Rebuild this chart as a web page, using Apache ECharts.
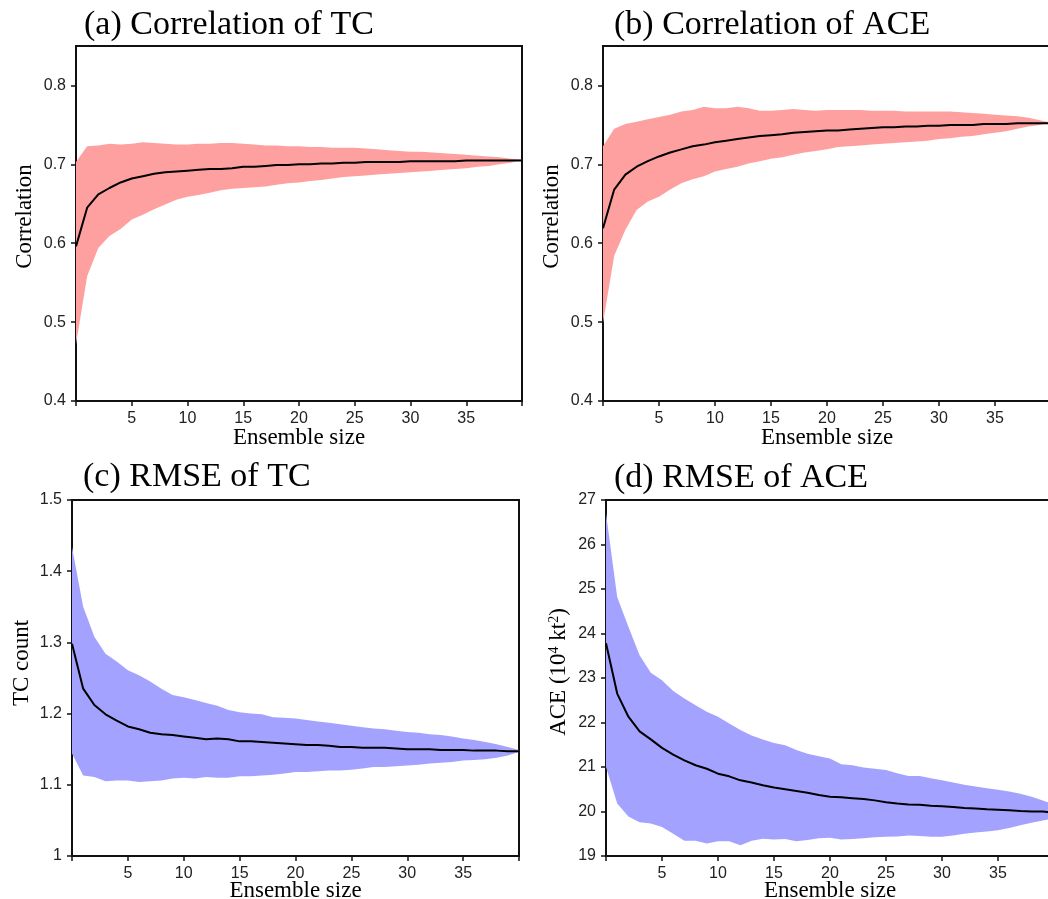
<!DOCTYPE html>
<html>
<head>
<meta charset="utf-8">
<script src="https://cdn.jsdelivr.net/npm/echarts@6/dist/echarts.min.js"></script>
<style>
  html, body { margin: 0; padding: 0; background: #fff; overflow: hidden; }
  #chart { width: 1060px; height: 899px; }
</style>
</head>
<body>
<div id="chart"></div>
<script>
// Ensemble sizes on the x axis
const ensembleSize = [0, 1, 2, 3, 4, 5, 6, 7, 8, 9, 10, 11, 12, 13, 14, 15, 16, 17, 18, 19, 20,
  21, 22, 23, 24, 25, 26, 27, 28, 29, 30, 31, 32, 33, 34, 35, 36, 37, 38, 39, 40];

// (a) Correlation of TC: mean and spread bounds
const corrTcMean = [0.596, 0.645, 0.662, 0.670, 0.677, 0.682, 0.685, 0.688, 0.690, 0.691, 0.692,
  0.693, 0.694, 0.694, 0.695, 0.697, 0.697, 0.698, 0.699, 0.699, 0.700,
  0.700, 0.701, 0.701, 0.702, 0.702, 0.703, 0.703, 0.703, 0.703, 0.704,
  0.704, 0.704, 0.704, 0.704, 0.705, 0.705, 0.705, 0.705, 0.705, 0.705];
const corrTcUpper = [0.703, 0.723, 0.724, 0.726, 0.725, 0.726, 0.728, 0.727, 0.726, 0.725, 0.725,
  0.726, 0.726, 0.727, 0.727, 0.726, 0.725, 0.724, 0.724, 0.723, 0.723,
  0.722, 0.722, 0.721, 0.721, 0.721, 0.720, 0.719, 0.718, 0.717, 0.716,
  0.716, 0.715, 0.714, 0.713, 0.712, 0.711, 0.710, 0.709, 0.707, 0.706];
const corrTcLower = [0.472, 0.558, 0.594, 0.609, 0.618, 0.630, 0.636, 0.643, 0.649, 0.655, 0.659,
  0.661, 0.664, 0.667, 0.669, 0.670, 0.671, 0.672, 0.674, 0.676, 0.677,
  0.679, 0.680, 0.682, 0.684, 0.685, 0.686, 0.687, 0.688, 0.689, 0.690,
  0.691, 0.692, 0.693, 0.694, 0.695, 0.697, 0.698, 0.700, 0.702, 0.705];

// (b) Correlation of ACE
const corrAceMean = [0.619, 0.668, 0.687, 0.697, 0.704, 0.710, 0.715, 0.719, 0.723, 0.725, 0.728,
  0.730, 0.732, 0.734, 0.736, 0.737, 0.738, 0.740, 0.741, 0.742, 0.743,
  0.743, 0.744, 0.745, 0.746, 0.747, 0.747, 0.748, 0.748, 0.749, 0.749,
  0.750, 0.750, 0.750, 0.751, 0.751, 0.751, 0.752, 0.752, 0.752, 0.752];
const corrAceUpper = [0.723, 0.745, 0.751, 0.754, 0.757, 0.760, 0.763, 0.767, 0.769, 0.773, 0.771,
  0.771, 0.773, 0.771, 0.768, 0.768, 0.769, 0.770, 0.769, 0.768, 0.769,
  0.769, 0.769, 0.769, 0.768, 0.768, 0.768, 0.767, 0.767, 0.767, 0.767,
  0.767, 0.766, 0.765, 0.764, 0.763, 0.762, 0.761, 0.759, 0.756, 0.753];
const corrAceLower = [0.499, 0.584, 0.617, 0.642, 0.653, 0.659, 0.668, 0.676, 0.681, 0.685, 0.691,
  0.694, 0.697, 0.701, 0.704, 0.707, 0.709, 0.712, 0.715, 0.717, 0.719,
  0.722, 0.723, 0.724, 0.725, 0.726, 0.727, 0.728, 0.729, 0.730, 0.732,
  0.733, 0.735, 0.736, 0.738, 0.740, 0.742, 0.745, 0.748, 0.750, 0.752];

// (c) RMSE of TC
const rmseTcMean = [1.298, 1.235, 1.212, 1.199, 1.190, 1.182, 1.178, 1.173, 1.171, 1.170, 1.168,
  1.166, 1.164, 1.165, 1.164, 1.161, 1.161, 1.160, 1.159, 1.158, 1.157,
  1.156, 1.156, 1.155, 1.153, 1.153, 1.152, 1.152, 1.152, 1.151, 1.150,
  1.150, 1.150, 1.149, 1.149, 1.149, 1.148, 1.148, 1.148, 1.147, 1.147];
const rmseTcUpper = [1.434, 1.350, 1.308, 1.284, 1.273, 1.261, 1.254, 1.245, 1.235, 1.226, 1.223,
  1.219, 1.215, 1.211, 1.205, 1.202, 1.200, 1.199, 1.195, 1.194, 1.193,
  1.191, 1.189, 1.187, 1.185, 1.183, 1.181, 1.179, 1.178, 1.176, 1.174,
  1.173, 1.171, 1.170, 1.168, 1.165, 1.163, 1.160, 1.157, 1.153, 1.149];
const rmseTcLower = [1.144, 1.113, 1.111, 1.105, 1.106, 1.106, 1.104, 1.105, 1.106, 1.109, 1.110,
  1.109, 1.111, 1.110, 1.110, 1.112, 1.112, 1.113, 1.114, 1.116, 1.118,
  1.118, 1.119, 1.120, 1.120, 1.121, 1.123, 1.125, 1.125, 1.126, 1.127,
  1.128, 1.130, 1.131, 1.132, 1.134, 1.135, 1.136, 1.138, 1.141, 1.146];

// (d) RMSE of ACE (10^4 kt^2)
const rmseAceMean = [23.78, 22.65, 22.13, 21.80, 21.62, 21.43, 21.28, 21.15, 21.04, 20.96, 20.85,
  20.79, 20.70, 20.65, 20.59, 20.54, 20.50, 20.46, 20.42, 20.37, 20.33,
  20.32, 20.30, 20.28, 20.25, 20.21, 20.18, 20.16, 20.15, 20.13, 20.12,
  20.10, 20.08, 20.07, 20.05, 20.04, 20.03, 20.01, 20.00, 20.00, 19.97];
const rmseAceUpper = [26.70, 24.82, 24.15, 23.51, 23.12, 22.95, 22.71, 22.54, 22.39, 22.24, 22.13,
  21.98, 21.83, 21.71, 21.62, 21.54, 21.49, 21.38, 21.30, 21.24, 21.19,
  21.06, 21.04, 20.99, 20.96, 20.93, 20.86, 20.80, 20.80, 20.75, 20.70,
  20.65, 20.60, 20.56, 20.52, 20.49, 20.45, 20.40, 20.33, 20.25, 20.16];
const rmseAceLower = [21.00, 20.18, 19.89, 19.76, 19.73, 19.65, 19.50, 19.34, 19.34, 19.28, 19.33,
  19.33, 19.24, 19.34, 19.39, 19.37, 19.38, 19.33, 19.36, 19.40, 19.41,
  19.37, 19.38, 19.40, 19.42, 19.43, 19.44, 19.46, 19.45, 19.43, 19.43,
  19.46, 19.50, 19.53, 19.55, 19.58, 19.63, 19.69, 19.75, 19.80, 19.85];

// Axis tick values
const corrTicks = [0.4, 0.5, 0.6, 0.7, 0.8];
const tcTicks = [1, 1.1, 1.2, 1.3, 1.4, 1.5];
const aceTicks = [19, 20, 21, 22, 23, 24, 25, 26, 27];

const panelTitles = ['(a) Correlation of TC', '(b) Correlation of ACE', '(c) RMSE of TC', '(d) RMSE of ACE'];
// y-axis names; the ACE unit uses rich-text superscripts
const yNames = ['Correlation', 'Correlation', 'TC count', '{n|ACE (10}{s|4}{n| kt}{s|2}{n|)}'];
const xName = 'Ensemble size';

const PINK = '#ffa0a0';
const BLUE = '#a3a3ff';
const SERIF = '"Liberation Serif", "Times New Roman", serif';
const SANS = '"Liberation Sans", Arial, sans-serif';

const panels = [
  { mean: corrTcMean, upper: corrTcUpper, lower: corrTcLower, color: PINK,
    grid: { left: 76, top: 46, width: 446, height: 355 },
    y: { min: 0.4, max: 0.85, ticks: corrTicks, fmt: v => v.toFixed(1) }, yGap: 40, yShift: 14, xGap: 25,
    title: { left: 84, top: 8 } },
  { mean: corrAceMean, upper: corrAceUpper, lower: corrAceLower, color: PINK,
    grid: { left: 603, top: 46, width: 448, height: 355 },
    y: { min: 0.4, max: 0.85, ticks: corrTicks, fmt: v => v.toFixed(1) }, yGap: 40, yShift: 14, xGap: 25,
    title: { left: 614, top: 8 } },
  { mean: rmseTcMean, upper: rmseTcUpper, lower: rmseTcLower, color: BLUE,
    grid: { left: 72, top: 500, width: 447, height: 356 },
    y: { min: 1, max: 1.5, ticks: tcTicks, fmt: v => String(Math.round(v * 10) / 10) }, yGap: 39, yShift: 30, xGap: 23,
    title: { left: 83, top: 460 } },
  { mean: rmseAceMean, upper: rmseAceUpper, lower: rmseAceLower, color: BLUE,
    grid: { left: 606, top: 500, width: 448, height: 356 },
    y: { min: 19, max: 27, ticks: aceTicks, fmt: v => String(v) }, yGap: 34, yShift: 12, xGap: 23,
    title: { left: 614, top: 461 } }
];

const xLabelTicks = ensembleSize.filter(v => v % 5 === 0 && v > 0 && v < 40).map(String);
const xTickMarks = ensembleSize.filter(v => v % 5 === 0).map(String);

const nameStyle = {
  fontFamily: SERIF, fontSize: 23, color: '#000',
  rich: {
    n: { fontFamily: SERIF, fontSize: 23, color: '#000', lineHeight: 26 },
    s: { fontFamily: SERIF, fontSize: 14, color: '#000', lineHeight: 26, verticalAlign: 'top', padding: [1, 0, 0, 0] }
  }
};

const option = {
  animation: false,
  backgroundColor: '#fff',
  title: panels.map((p, i) => ({
    text: panelTitles[i],
    left: p.title.left,
    top: p.title.top,
    padding: 0,
    textStyle: { fontFamily: SERIF, fontSize: 34, fontWeight: 'normal', color: '#000' }
  })),
  grid: panels.map(p => Object.assign({
    show: true, borderColor: '#111', borderWidth: 2, backgroundColor: 'transparent',
    containLabel: false, outerBoundsMode: 'none'
  }, p.grid)),
  xAxis: panels.map((p, i) => ({
    type: 'category',
    gridIndex: i,
    data: ensembleSize.map(String),
    boundaryGap: false,
    name: xName,
    nameLocation: 'middle',
    nameGap: p.xGap,
    nameMoveOverlap: false,
    nameTextStyle: { fontFamily: SERIF, fontSize: 23, color: '#000' },
    axisLine: { show: true, lineStyle: { color: '#111', width: 2 } },
    axisTick: { show: true, customValues: xTickMarks, length: 5, lineStyle: { color: '#111', width: 1.5 } },
    axisLabel: { show: true, customValues: xLabelTicks, margin: 10,
      fontFamily: SANS, fontSize: 16, color: '#222' },
    splitLine: { show: false }
  })),
  yAxis: panels.map((p, i) => ({
    type: 'value',
    gridIndex: i,
    min: p.y.min,
    max: p.y.max,
    name: yNames[i],
    nameLocation: 'middle',
    nameGap: p.yGap,
    nameMoveOverlap: false,
    nameTextStyle: Object.assign({}, nameStyle, { padding: [0, 0, 0, p.yShift] }),
    axisLine: { show: true, lineStyle: { color: '#111', width: 2 } },
    axisTick: { show: true, customValues: p.y.ticks, length: 5, lineStyle: { color: '#111', width: 1.5 } },
    axisLabel: { show: true, customValues: p.y.ticks, margin: 10, formatter: p.y.fmt,
      fontFamily: SANS, fontSize: 16, color: '#222' },
    splitLine: { show: false }
  })),
  series: []
};

panels.forEach((p, i) => {
  // Invisible base of the spread band
  option.series.push({
    type: 'line', xAxisIndex: i, yAxisIndex: i, stack: 'band' + i,
    data: p.lower, symbol: 'none', silent: true,
    lineStyle: { opacity: 0 }
  });
  // Filled spread from lower bound to upper bound
  option.series.push({
    type: 'line', xAxisIndex: i, yAxisIndex: i, stack: 'band' + i,
    data: p.upper.map((u, k) => u - p.lower[k]), symbol: 'none', silent: true,
    lineStyle: { opacity: 0 },
    areaStyle: { color: p.color, opacity: 1 }
  });
  // Ensemble mean
  option.series.push({
    type: 'line', xAxisIndex: i, yAxisIndex: i,
    data: p.mean, symbol: 'none', silent: true, z: 5,
    lineStyle: { color: '#000', width: 2 }
  });
});

const chart = echarts.init(document.getElementById('chart'), null, { renderer: 'canvas' });
chart.setOption(option);
</script>
</body>
</html>
